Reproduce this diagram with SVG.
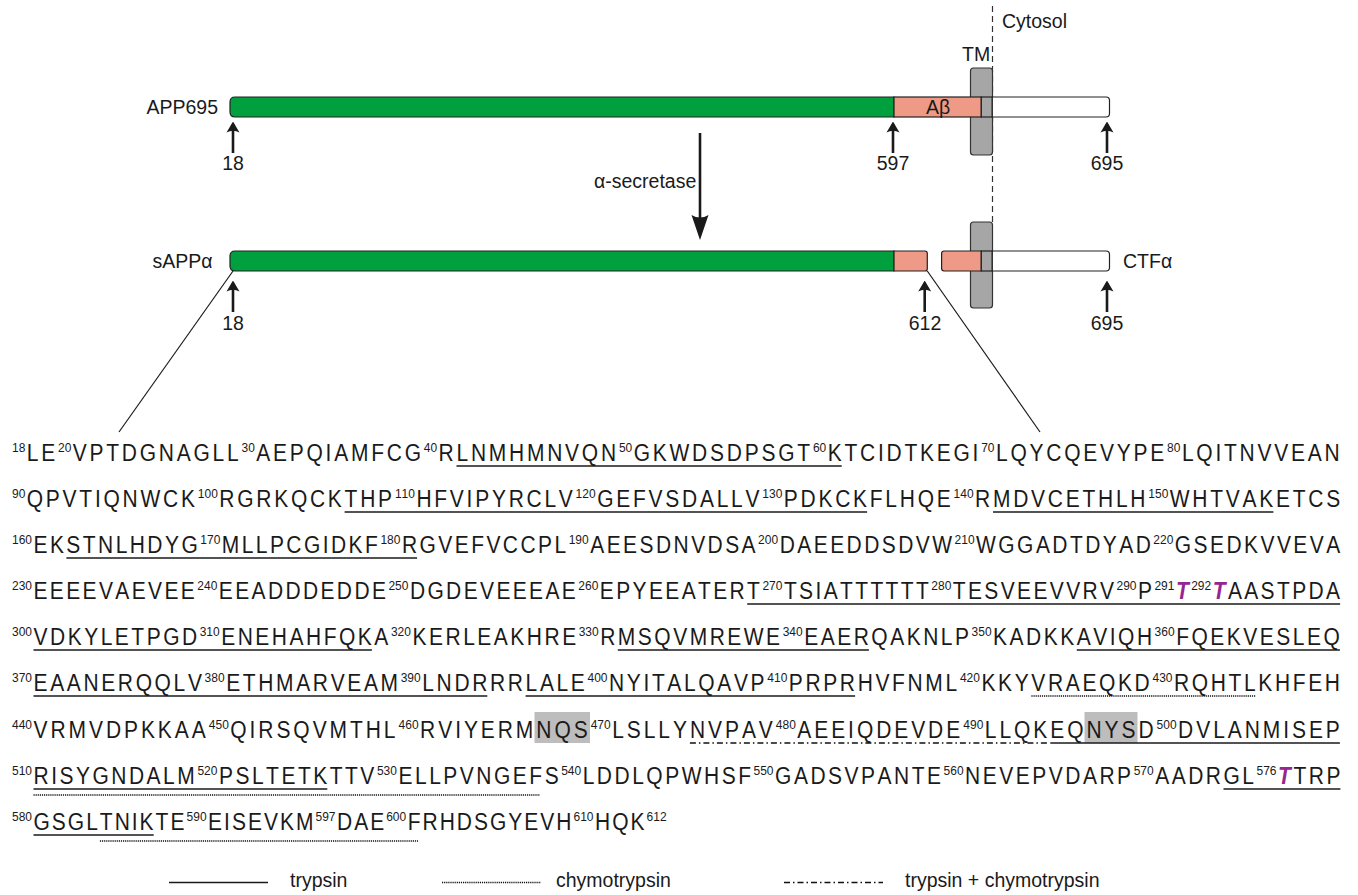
<svg xmlns="http://www.w3.org/2000/svg" width="1358" height="895" viewBox="0 0 1358 895">
<style>
text{font-family:"Liberation Sans",Arial,sans-serif;fill:#1a1a1a;font-kerning:none}
.lbl{font-size:19.5px}
.mid{text-anchor:middle}
.seq{font-size:21px}
.sup{font-size:12px;letter-spacing:0}
.gly{font-weight:bold;font-style:italic;fill:#93278f}
.bar{stroke:#222;stroke-width:1.2}
.green{fill:#00a03e}
.salmon{fill:#ee9a86}
.white{fill:#fff}
.tm{fill:#a6a6a6;stroke:#333;stroke-width:1.2}
.ul{stroke:#1a1a1a;stroke-width:1.6;fill:none}
.dot{stroke:#111;stroke-width:1.4;stroke-dasharray:1.2 0.9;fill:none}
.dd{stroke:#111;stroke-width:1.5;stroke-dasharray:6 3 1.5 3;fill:none}
.shaft{stroke:#1a1a1a;stroke-width:2.6;fill:none}
.thin{stroke:#1a1a1a;stroke-width:1.2;fill:none}
.box{fill:#bdbdbd}
</style>
<defs>
<marker id="ah" markerUnits="userSpaceOnUse" markerWidth="11" markerHeight="14" viewBox="0 0 11 14" refX="8.5" refY="7" orient="auto">
<path d="M11,7 L0,0.5 Q3.5,7 0,13.5 Z" fill="#1a1a1a"/>
</marker>
</defs>

<g id="membrane">
<line x1="992.5" y1="6" x2="992.5" y2="222" stroke="#333" stroke-width="1.2" stroke-dasharray="6 4"/>
<text class="lbl" x="1002" y="28">Cytosol</text>
<text class="lbl" x="962" y="61">TM</text>
</g>

<g id="app695">
<rect class="tm" x="970.5" y="68" width="22" height="87" rx="3"/>
<path class="bar green" d="M894,97 H235 Q230,97 230,102 V112 Q230,117 235,117 H894 Z"/>
<rect class="bar salmon" x="894" y="97" width="87.3" height="20"/>
<rect class="bar" x="981.3" y="97" width="11" height="20" fill="#a6a6a6"/>
<path class="bar white" d="M992.3,97 H1106 Q1109.5,97 1109.5,100.5 V113.5 Q1109.5,117 1106,117 H992.3 Z"/>
<text class="lbl" x="146.5" y="114">APP695</text>
<text class="lbl mid" x="938" y="114">Aβ</text>
</g>

<g id="sappa">
<path class="bar green" d="M894,251 H235 Q230,251 230,256 V266 Q230,271 235,271 H894 Z"/>
<path class="bar salmon" d="M894,251 H925 Q927.3,251 927.3,253.3 V268.7 Q927.3,271 925,271 H894 Z"/>
<text class="lbl" x="152.5" y="268">sAPPα</text>
</g>

<g id="ctfa">
<rect class="tm" x="970.5" y="222" width="22" height="86" rx="3"/>
<path class="bar salmon" d="M981.3,251 H944 Q941.6,251 941.6,253.4 V268.6 Q941.6,271 944,271 H981.3 Z"/>
<rect class="bar" x="981.3" y="251" width="11" height="20" fill="#a6a6a6"/>
<path class="bar white" d="M992.3,251 H1106 Q1109.5,251 1109.5,254.5 V267.5 Q1109.5,271 1106,271 H992.3 Z"/>
<text class="lbl" x="1123" y="268">CTFα</text>
</g>

<g id="positions">
<text class="lbl mid" x="233" y="170">18</text>
<text class="lbl mid" x="893" y="170">597</text>
<text class="lbl mid" x="1107" y="170">695</text>
<text class="lbl mid" x="233" y="330">18</text>
<text class="lbl mid" x="925" y="330">612</text>
<text class="lbl mid" x="1107" y="330">695</text>
<text class="lbl" x="594" y="188">α-secretase</text>
</g>

<g id="connectors">
<line class="shaft" x1="233" y1="153" x2="233" y2="124" marker-end="url(#ah)"/>
<line class="shaft" x1="893" y1="153" x2="893" y2="124" marker-end="url(#ah)"/>
<line class="shaft" x1="1107" y1="153" x2="1107" y2="124" marker-end="url(#ah)"/>
<line class="shaft" x1="233" y1="312" x2="233" y2="283" marker-end="url(#ah)"/>
<line class="shaft" x1="924.7" y1="312" x2="924.7" y2="283" marker-end="url(#ah)"/>
<line class="shaft" x1="1107" y1="312" x2="1107" y2="283" marker-end="url(#ah)"/>
<line class="shaft" x1="700" y1="133" x2="700" y2="222"/>
<path d="M691.5,215 Q700,220 708.5,215 L700,240 Z" fill="#1a1a1a"/>
<line class="thin" x1="233" y1="271" x2="119" y2="432"/>
<line class="thin" x1="927.3" y1="271" x2="1040" y2="432"/>
</g>

<g id="sequence">
<rect class="box" x="534.5" y="712" width="55.5" height="31"/>
<rect class="box" x="1084.5" y="712" width="53" height="31"/>

<text class="seq" transform="matrix(1 0 0 1.1 0 -46.1)" style="letter-spacing:2.75px"><tspan class="sup" x="12" y="452.5">18</tspan><tspan x="26.8" y="461">LE</tspan><tspan class="sup" x="58" y="452.5">20</tspan><tspan x="72.8" y="461">VPTDGNAGLL</tspan><tspan class="sup" x="241.5" y="452.5">30</tspan><tspan x="256.3" y="461">AEPQIAMFCG</tspan><tspan class="sup" x="423.8" y="452.5">40</tspan><tspan x="438.6" y="461">RLNMHMNVQN</tspan><tspan class="sup" x="618.9" y="452.5">50</tspan><tspan x="633.7" y="461">GKWDSDPSGT</tspan><tspan class="sup" x="812.9" y="452.5">60</tspan><tspan x="827.7" y="461">KTCIDTKEGI</tspan><tspan class="sup" x="981.2" y="452.5">70</tspan><tspan x="996" y="461">LQYCQEVYPE</tspan><tspan class="sup" x="1167.1" y="452.5">80</tspan><tspan x="1181.9" y="461">LQITNVVEAN</tspan></text>

<text class="seq" transform="matrix(1 0 0 1.1 0 -50.7)" style="letter-spacing:2.74px"><tspan class="sup" x="12" y="498.5">90</tspan><tspan x="26.8" y="507">QPVTIQNWCK</tspan><tspan class="sup" x="197.8" y="498.5">100</tspan><tspan x="219.3" y="507">RGRKQCKTHP</tspan><tspan class="sup" x="394.9" y="498.5">110</tspan><tspan x="416.4" y="507">HFVIPYRCLV</tspan><tspan class="sup" x="575.6" y="498.5">120</tspan><tspan x="597.2" y="507">GEFVSDALLV</tspan><tspan class="sup" x="762.3" y="498.5">130</tspan><tspan x="783.8" y="507">PDKCKFLHQE</tspan><tspan class="sup" x="953.6" y="498.5">140</tspan><tspan x="975.1" y="507">RMDVCETHLH</tspan><tspan class="sup" x="1148.3" y="498.5">150</tspan><tspan x="1169.8" y="507">WHTVAKETCS</tspan></text>

<text class="seq" transform="matrix(1 0 0 1.1 0 -55.3)" style="letter-spacing:2.44px"><tspan class="sup" x="12" y="544.5">160</tspan><tspan x="33.5" y="553">EKSTNLHDYG</tspan><tspan class="sup" x="200.3" y="544.5">170</tspan><tspan x="221.8" y="553">MLLPCGIDKF</tspan><tspan class="sup" x="380.4" y="544.5">180</tspan><tspan x="401.9" y="553">RGVEFVCCPL</tspan><tspan class="sup" x="568.7" y="544.5">190</tspan><tspan x="590.2" y="553">AEESDNVDSA</tspan><tspan class="sup" x="758.1" y="544.5">200</tspan><tspan x="779.7" y="553">DAEEDDSDVW</tspan><tspan class="sup" x="954.6" y="544.5">210</tspan><tspan x="976.1" y="553">WGGADTDYAD</tspan><tspan class="sup" x="1153.3" y="544.5">220</tspan><tspan x="1174.8" y="553">GSEDKVVEVA</tspan></text>

<text class="seq" transform="matrix(1 0 0 1.1 0 -59.9)" style="letter-spacing:2.37px"><tspan class="sup" x="12" y="590.5">230</tspan><tspan x="33.5" y="599">EEEEVAEVEE</tspan><tspan class="sup" x="197.3" y="590.5">240</tspan><tspan x="218.8" y="599">EEADDDEDDE</tspan><tspan class="sup" x="388.4" y="590.5">250</tspan><tspan x="409.9" y="599">DGDEVEEEAE</tspan><tspan class="sup" x="578.3" y="590.5">260</tspan><tspan x="599.8" y="599">EPYEEATERT</tspan><tspan class="sup" x="762.4" y="590.5">270</tspan><tspan x="783.9" y="599">TSIATTTTTT</tspan><tspan class="sup" x="931.3" y="590.5">280</tspan><tspan x="952.8" y="599">TESVEEVVRV</tspan><tspan class="sup" x="1116.5" y="590.5">290</tspan><tspan x="1138.1" y="599">P</tspan><tspan class="sup" x="1154.4" y="590.5">291</tspan><tspan class="gly" x="1176" y="599">T</tspan><tspan class="sup" x="1191.2" y="590.5">292</tspan><tspan class="gly" x="1212.7" y="599">T</tspan><tspan>AASTPDA</tspan></text>

<text class="seq" transform="matrix(1 0 0 1.1 0 -64.5)" style="letter-spacing:2.5px"><tspan class="sup" x="12" y="636.5">300</tspan><tspan x="33.5" y="645">VDKYLETPGD</tspan><tspan class="sup" x="199.7" y="636.5">310</tspan><tspan x="221.2" y="645">ENEHAHFQKA</tspan><tspan class="sup" x="390.9" y="636.5">320</tspan><tspan x="412.5" y="645">KERLEAKHRE</tspan><tspan class="sup" x="578.7" y="636.5">330</tspan><tspan x="600.2" y="645">RMSQVMREWE</tspan><tspan class="sup" x="782.7" y="636.5">340</tspan><tspan x="804.2" y="645">EAERQAKNLP</tspan><tspan class="sup" x="971.6" y="636.5">350</tspan><tspan x="993.1" y="645">KADKKAVIQH</tspan><tspan class="sup" x="1154.6" y="636.5">360</tspan><tspan x="1176.2" y="645">FQEKVESLEQ</tspan></text>

<text class="seq" transform="matrix(1 0 0 1.1 0 -69.1)" style="letter-spacing:2.64px"><tspan class="sup" x="12" y="682.5">370</tspan><tspan x="33.5" y="691">EAANERQQLV</tspan><tspan class="sup" x="204.6" y="682.5">380</tspan><tspan x="226.2" y="691">ETHMARVEAM</tspan><tspan class="sup" x="400.7" y="682.5">390</tspan><tspan x="422.3" y="691">LNDRRRLALE</tspan><tspan class="sup" x="587.5" y="682.5">400</tspan><tspan x="609" y="691">NYITALQAVP</tspan><tspan class="sup" x="767.3" y="682.5">410</tspan><tspan x="788.8" y="691">PRPRHVFNML</tspan><tspan class="sup" x="959.9" y="682.5">420</tspan><tspan x="981.4" y="691">KKYVRAEQKD</tspan><tspan class="sup" x="1152.5" y="682.5">430</tspan><tspan x="1174" y="691">RQHTLKHFEH</tspan></text>

<text class="seq" transform="matrix(1 0 0 1.1 0 -73.8)" style="letter-spacing:2.94px"><tspan class="sup" x="12" y="729.5">440</tspan><tspan x="33.5" y="738">VRMVDPKKAA</tspan><tspan class="sup" x="208.8" y="729.5">450</tspan><tspan x="230.3" y="738">QIRSQVMTHL</tspan><tspan class="sup" x="398.6" y="729.5">460</tspan><tspan x="420.1" y="738">RVIYERMNQS</tspan><tspan class="sup" x="590.7" y="729.5">470</tspan><tspan x="612.2" y="738">LSLLYNVPAV</tspan><tspan class="sup" x="775.8" y="729.5">480</tspan><tspan x="797.3" y="738">AEEIQDEVDE</tspan><tspan class="sup" x="963.3" y="729.5">490</tspan><tspan x="984.8" y="738">LLQKEQNYSD</tspan><tspan class="sup" x="1156.6" y="729.5">500</tspan><tspan x="1178.1" y="738">DVLANMISEP</tspan></text>

<text class="seq" transform="matrix(1 0 0 1.1 0 -78.4)" style="letter-spacing:2.5px"><tspan class="sup" x="12" y="775.5">510</tspan><tspan x="33.5" y="784">RISYGNDALM</tspan><tspan class="sup" x="197.4" y="775.5">520</tspan><tspan x="218.9" y="784">PSLTETKTTV</tspan><tspan class="sup" x="376.9" y="775.5">530</tspan><tspan x="398.5" y="784">ELLPVNGEFS</tspan><tspan class="sup" x="561.2" y="775.5">540</tspan><tspan x="582.7" y="784">LDDLQPWHSF</tspan><tspan class="sup" x="753.5" y="775.5">550</tspan><tspan x="775.1" y="784">GADSVPANTE</tspan><tspan class="sup" x="943.6" y="775.5">560</tspan><tspan x="965.1" y="784">NEVEPVDARP</tspan><tspan class="sup" x="1133.7" y="775.5">570</tspan><tspan x="1155.2" y="784">AADRGL</tspan><tspan class="sup" x="1256.5" y="775.5">576</tspan><tspan class="gly" x="1278.1" y="784">T</tspan><tspan>TRP</tspan></text>

<text class="seq" transform="matrix(1 0 0 1.1 0 -83)" style="letter-spacing:2px"><tspan class="sup" x="12" y="821.5">580</tspan><tspan x="33.5" y="830">GSGLTNIKTE</tspan><tspan class="sup" x="186.6" y="821.5">590</tspan><tspan x="208.1" y="830">EISEVKM</tspan><tspan class="sup" x="315.5" y="821.5">597</tspan><tspan x="337" y="830">DAE</tspan><tspan class="sup" x="386.2" y="821.5">600</tspan><tspan x="407.7" y="830">FRHDSGYEVH</tspan><tspan class="sup" x="573.5" y="821.5">610</tspan><tspan x="595" y="830">HQK</tspan><tspan class="sup" x="646.6" y="821.5">612</tspan></text>
</g>

<g id="peptides">
<line class="ul" x1="456.5" y1="466" x2="841.7" y2="466"/>
<line class="ul" x1="344.6" y1="512" x2="867.1" y2="512"/>
<line class="ul" x1="993" y1="512" x2="1273.4" y2="512"/>
<line class="ul" x1="66.4" y1="558" x2="417.1" y2="558"/>
<line class="ul" x1="747.2" y1="604" x2="1340.1" y2="604"/>
<line class="ul" x1="33.5" y1="650" x2="371.9" y2="650"/>
<line class="ul" x1="617.8" y1="650" x2="868.9" y2="650"/>
<line class="ul" x1="1076.8" y1="650" x2="1339.9" y2="650"/>
<line class="ul" x1="33.5" y1="696" x2="487.3" y2="696"/>
<line class="ul" x1="525.6" y1="696" x2="855.1" y2="696"/>
<line class="dot" x1="1031.4" y1="696" x2="1255.8" y2="696"/>
<line class="dd" x1="689.9" y1="743" x2="1047.3" y2="743"/>
<line class="ul" x1="1050.3" y1="743" x2="1339.9" y2="743"/>
<line class="ul" x1="33.5" y1="789" x2="327.3" y2="789"/>
<line class="ul" x1="1223.5" y1="789" x2="1340.4" y2="789"/>
<line class="dot" x1="33.5" y1="795" x2="540" y2="795"/>
<line class="ul" x1="33.5" y1="835" x2="153.7" y2="835"/>
<line class="dot" x1="99.9" y1="841" x2="418" y2="841"/>
</g>

<g id="legend">
<line class="ul" x1="169" y1="882.5" x2="268" y2="882.5" stroke-width="2"/>
<text class="lbl" x="290" y="887">trypsin</text>
<line class="dot" x1="442" y1="882.5" x2="541" y2="882.5"/>
<text class="lbl" x="556" y="887">chymotrypsin</text>
<line class="dd" x1="784" y1="882.5" x2="883" y2="882.5"/>
<text class="lbl" x="905" y="887">trypsin + chymotrypsin</text>
</g>
</svg>
